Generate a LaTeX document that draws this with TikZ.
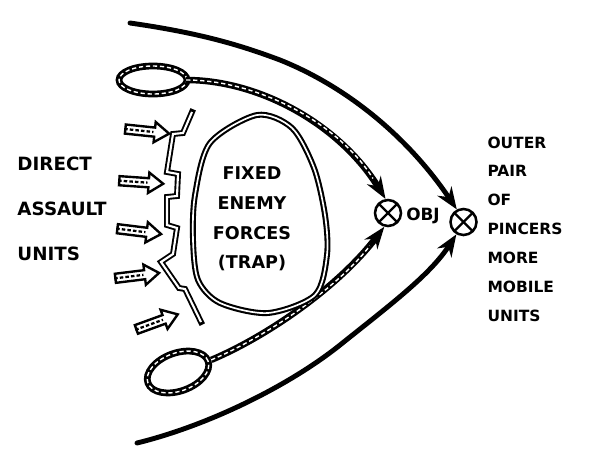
\documentclass[tikz,border=0pt]{standalone}
\usepackage{fontspec}
\setmainfont{DejaVu Sans}
\usetikzlibrary{
  arrows.meta,
  shapes.geometric,
  shapes.arrows,
  positioning,
  calc
}
\tikzset{
handtext/.style={
  font=\fontsize{11}{20.5}\selectfont\bfseries,
  align=left,
  inner sep=3pt
},
target/.style={
  circle,
  draw,
  line width=1.8pt,
  minimum size=0.65cm,
  inner sep=0pt
},
crossline/.style={
  line width=1.6pt,
  shorten >=1pt,
  shorten <=1pt
},
outerpincer/.style={
  line width=3.5pt,
  line cap=round,
  -{Stealth[length=5.5mm,width=4.2mm]}
},
loopnode/.style={
  ellipse,
  draw,
  line width=4.8pt,
  inner sep=0pt,
  postaction={draw=white, line width=1pt, dash pattern=on 3pt off 2pt}
},
pincertail/.style={
  preaction={draw=black, solid, line width=4.6pt, shorten >=0pt,
    -{Stealth[length=5.5mm,width=4mm]}},
  draw=white,
  line width=1pt,
  dash pattern=on 3pt off 2pt,
  shorten >=6mm
},
assaultarrow/.style={
  single arrow,
  draw,
  fill=white,
  line width=1.7pt,
  inner sep=2.4pt,
  single arrow head extend=4pt,
  single arrow tip angle=70,
  minimum height=1.1cm
},
shaftdash/.style={
  line width=1.6pt,
  dash pattern=on 2.5pt off 1.5pt
},
frontline/.style={
  preaction={draw=black, line width=4.2pt, line cap=rect, line join=miter},
  draw=white,
  line width=1.5pt,
  line join=miter
},
enemyline/.style={
  draw,
  double=white,
  double distance=1.2pt,
  line width=1.5pt
}
}

\begin{document}
\begin{tikzpicture}[x=0.025cm, y=-0.025cm]
\useasboundingbox (0,0) rectangle (597,456);

% objective and outer pincer targets
\node[target] (obj) at (388,213) {};
\draw[crossline] (obj.north west) -- (obj.south east);
\draw[crossline] (obj.north east) -- (obj.south west);
\node[handtext, font=\fontsize{12}{14}\selectfont\bfseries] (objlabel) at (423,216) {OBJ};

\node[target] (pincer) at (463.5,222) {};
\draw[crossline] (pincer.north west) -- (pincer.south east);
\draw[crossline] (pincer.north east) -- (pincer.south west);

% outer pair of pincers
\coordinate (topstart) at (130,23);
\coordinate (botstart) at (137,443);
\draw[outerpincer] (topstart) .. controls (200,33) and (240,45) .. (280,60)
  .. controls (350,88) and (410,140) .. (pincer.118);
\draw[outerpincer] (botstart) .. controls (210,425) and (290,385) .. (340,345)
  .. controls (390,305) and (430,275) .. (pincer.240);

% inner pincers
\node[loopnode, minimum width=1.7cm, minimum height=0.7cm] (loop1) at (153,80) {};
\node[loopnode, minimum width=1.6cm, minimum height=0.95cm, rotate=20] (loop2) at (178,372) {};
\draw[pincertail] ([xshift=-3pt]loop1.east) .. controls (260,80) and (340,125) .. (obj.100);
\draw[pincertail] (loop2.east) .. controls (270,335) and (340,285) .. (obj.255);

% fixed enemy forces
\draw[enemyline] plot[smooth cycle] coordinates {(257,115) (292,128) (314,168) (325,215)
  (327,255) (315,295) (268,313) (220,303) (198,280) (193,240) (195,195) (210,143)};
\node[handtext, align=center, font=\fontsize{12.5}{21}\selectfont\bfseries] (enemy) at (252,219) {FIXED\\ENEMY\\FORCES\\(TRAP)};

% front line
\draw[frontline] (192,112) -- (183,133) -- (173,134) -- (167,172) -- (178,174)
  -- (177,196) -- (167,197) -- (167,225) -- (177,228) -- (173,254) -- (161,262)
  -- (179,288) -- (185,289) -- (201,322);

% direct assault units
\foreach \i/\x/\y/\a in {1/144/131/-6, 2/138/182/-4, 3/136/231/-7, 4/134/276/7, 5/154/323/20} {
  \node[assaultarrow, rotate=\a] (assault\i) at (\x,\y) {};
  \draw[shaftdash] (assault\i.tail) -- ($(assault\i.before head)!0.5!(assault\i.after head)$);
}

% labels
\node[handtext, anchor=west, font=\fontsize{13}{32}\selectfont\bfseries] (direct) at (13,209) {DIRECT\\ASSAULT\\UNITS};
\node[handtext, anchor=west] (outer) at (483,229) {OUTER\\PAIR\\OF\\PINCERS\\MORE\\MOBILE\\UNITS};

\end{tikzpicture}
\end{document}
